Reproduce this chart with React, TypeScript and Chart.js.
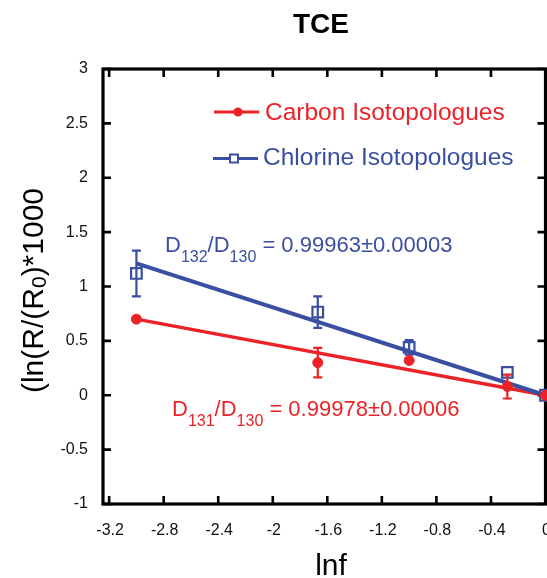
import React, { useEffect, useRef } from 'react';
import { Chart, registerables } from 'chart.js';

Chart.register(...registerables);

// ---- data ----
const X_VALUES = [-3.0, -1.67, -1.0, -0.28, 0];
const CARBON = [0.70, 0.30, 0.32, 0.08, 0];
const CARBON_ERR = [0, 0.135, 0, 0.11, 0];
const CHLORINE = [1.12, 0.765, 0.44, 0.21, 0];
const CHLORINE_ERR = [0.21, 0.145, 0.066, 0, 0];
const FIT_X = [-3.0, 0];
const CARBON_FIT = [0.70, 0];
const CHLORINE_FIT = [1.213, 0];
const X_TICKS = [-3.2, -2.8, -2.4, -2, -1.6, -1.2, -0.8, -0.4, 0];
const Y_TICKS = [-1, -0.5, 0, 0.5, 1, 1.5, 2, 2.5, 3];
const X_MIN = -3.245;
const X_MAX = 0;
const Y_MIN = -1;
const Y_MAX = 3;

const TITLE = 'TCE';
const X_TITLE = 'lnf';
const CARBON_LABEL = 'Carbon Isotopologues';
const CHLORINE_LABEL = 'Chlorine Isotopologues';

const RED = '#ec2227';
const BLUE = '#3a4ea2';
const FONT = '"Liberation Sans", Arial, Helvetica, sans-serif';

const W = 547;
const H = 578;

type Seg = { t: string; sub?: boolean };

function drawRich(ctx: CanvasRenderingContext2D, segs: Seg[], x: number, y: number, size: number, subSize: number, subOffset: number) {
  let cx = x;
  for (const s of segs) {
    ctx.font = `${s.sub ? subSize : size}px ${FONT}`;
    ctx.fillText(s.t, cx, y + (s.sub ? subOffset : 0));
    cx += ctx.measureText(s.t).width;
  }
}

function richWidth(ctx: CanvasRenderingContext2D, segs: Seg[], size: number, subSize: number) {
  let w = 0;
  for (const s of segs) {
    ctx.font = `${s.sub ? subSize : size}px ${FONT}`;
    w += ctx.measureText(s.t).width;
  }
  return w;
}

const fmt = (v: number) => String(Number(v.toFixed(3)));

const errorBarPlugin = {
  id: 'errorBars',
  beforeDatasetDraw(chart: any, args: any) {
    const ds = chart.data.datasets[args.index];
    if (!ds.errors) return;
    const ctx = chart.ctx;
    const xs = chart.scales.x;
    const ys = chart.scales.y;
    ctx.save();
    ctx.strokeStyle = ds.borderColor;
    ctx.lineWidth = 2.2;
    ds.data.forEach((p: any, i: number) => {
      const e = ds.errors[i];
      if (!e) return;
      const x = xs.getPixelForValue(p.x);
      const y1 = ys.getPixelForValue(p.y + e);
      const y2 = ys.getPixelForValue(p.y - e);
      ctx.beginPath();
      ctx.moveTo(x, y1);
      ctx.lineTo(x, y2);
      ctx.moveTo(x - 4.5, y1);
      ctx.lineTo(x + 4.5, y1);
      ctx.moveTo(x - 4.5, y2);
      ctx.lineTo(x + 4.5, y2);
      ctx.stroke();
    });
    ctx.restore();
  },
};

const framePlugin = {
  id: 'frame',
  beforeDatasetsDraw(chart: any) {
    const { ctx, chartArea: a } = chart;
    const xs = chart.scales.x;
    const ys = chart.scales.y;
    ctx.save();
    ctx.strokeStyle = '#000';
    ctx.lineWidth = 2.6;
    ctx.beginPath();
    const L = 8;
    xs.ticks.forEach((t: any) => {
      const x = xs.getPixelForValue(t.value);
      ctx.moveTo(x, a.bottom);
      ctx.lineTo(x, a.bottom - L);
      ctx.moveTo(x, a.top);
      ctx.lineTo(x, a.top + L);
    });
    ys.ticks.forEach((t: any) => {
      const y = ys.getPixelForValue(t.value);
      ctx.moveTo(a.left, y);
      ctx.lineTo(a.left + L, y);
      ctx.moveTo(a.right, y);
      ctx.lineTo(a.right - L, y);
    });
    ctx.stroke();
    ctx.lineWidth = 3.2;
    ctx.strokeRect(a.left, a.top, a.right - a.left, a.bottom - a.top);

    // x tick labels (drawn here so the last one may run off the canvas edge)
    ctx.fillStyle = '#111';
    ctx.font = `16px ${FONT}`;
    ctx.textAlign = 'center';
    ctx.textBaseline = 'alphabetic';
    xs.ticks.forEach((t: any) => {
      ctx.fillText(fmt(t.value), xs.getPixelForValue(t.value) + 1, 535);
    });
    ctx.restore();
  },
};

const textPlugin = {
  id: 'texts',
  afterDraw(chart: any) {
    const ctx: CanvasRenderingContext2D = chart.ctx;
    const a = chart.chartArea;
    ctx.save();
    ctx.textBaseline = 'alphabetic';

    // title
    ctx.fillStyle = '#000';
    ctx.font = `bold 28px ${FONT}`;
    ctx.textAlign = 'center';
    ctx.fillText(TITLE, 321, 33);

    // x title
    ctx.font = `30px ${FONT}`;
    ctx.fillText(X_TITLE, 331, 575);

    // y title (rotated, with subscript)
    ctx.textAlign = 'left';
    const ySegs: Seg[] = [{ t: '(ln(R/(R' }, { t: '0', sub: true }, { t: ')*1000' }];
    const yw = richWidth(ctx, ySegs, 30, 21);
    ctx.save();
    ctx.translate(43, (a.top + a.bottom) / 2 + 4);
    ctx.rotate(-Math.PI / 2);
    drawRich(ctx, ySegs, -yw / 2, 0, 30, 21, 3);
    ctx.restore();

    // legend
    ctx.lineWidth = 3;
    ctx.strokeStyle = RED;
    ctx.fillStyle = RED;
    ctx.beginPath();
    ctx.moveTo(214, 112);
    ctx.lineTo(259, 112);
    ctx.stroke();
    ctx.beginPath();
    ctx.arc(238, 112, 4.5, 0, Math.PI * 2);
    ctx.fill();
    ctx.font = `24.5px ${FONT}`;
    ctx.fillText(CARBON_LABEL, 265, 120);

    ctx.strokeStyle = BLUE;
    ctx.fillStyle = BLUE;
    ctx.beginPath();
    ctx.moveTo(213, 158.5);
    ctx.lineTo(258, 158.5);
    ctx.stroke();
    ctx.lineWidth = 2;
    ctx.fillStyle = '#fff';
    ctx.fillRect(230, 154.5, 8, 8);
    ctx.strokeRect(230, 154.5, 8, 8);
    ctx.fillStyle = BLUE;
    ctx.fillText(CHLORINE_LABEL, 263, 165);

    // annotations
    ctx.fillStyle = BLUE;
    drawRich(ctx, [{ t: 'D' }, { t: '132', sub: true }, { t: '/D' }, { t: '130', sub: true }, { t: ' = 0.99963±0.00003' }], 165, 252, 22, 16, 10);
    ctx.fillStyle = RED;
    drawRich(ctx, [{ t: 'D' }, { t: '131', sub: true }, { t: '/D' }, { t: '130', sub: true }, { t: ' = 0.99978±0.00006' }], 172, 416, 22, 16, 10);

    ctx.restore();
  },
};

export default function App() {
  const ref = useRef<HTMLCanvasElement>(null);

  useEffect(() => {
    const pts = (ys: number[]) => X_VALUES.map((x, i) => ({ x, y: ys[i] }));
    const fit = (ys: number[]) => FIT_X.map((x, i) => ({ x, y: ys[i] }));

    const chart = new Chart(ref.current as HTMLCanvasElement, {
      type: 'scatter',
      data: {
        datasets: [
          {
            label: CARBON_LABEL,
            data: pts(CARBON),
            errors: CARBON_ERR,
            borderColor: RED,
            backgroundColor: RED,
            pointStyle: 'circle',
            pointRadius: 5,
            borderWidth: 1,
            showLine: false,
            clip: false,
          } as any,
          {
            label: CHLORINE_LABEL,
            data: pts(CHLORINE),
            errors: CHLORINE_ERR,
            borderColor: BLUE,
            backgroundColor: 'rgba(255,255,255,0)',
            pointStyle: 'rect',
            pointRadius: 7.5,
            pointBorderWidth: 2.2,
            borderWidth: 2.2,
            showLine: false,
            clip: false,
          } as any,
          {
            label: 'Chlorine fit',
            data: fit(CHLORINE_FIT),
            borderColor: BLUE,
            borderWidth: 4,
            pointRadius: 0,
            showLine: true,
            clip: false,
          } as any,
          {
            label: 'Carbon fit',
            data: fit(CARBON_FIT),
            borderColor: RED,
            borderWidth: 3.5,
            pointRadius: 0,
            showLine: true,
            clip: false,
          } as any,
        ],
      },
      options: {
        animation: false,
        responsive: false,
        maintainAspectRatio: false,
        devicePixelRatio: 1,
        layout: { autoPadding: false, padding: { top: 69, right: 1.5, left: 0, bottom: 0 } },
        plugins: {
          legend: { display: false },
          tooltip: { enabled: false },
          title: { display: false },
        },
        scales: {
          x: {
            type: 'linear',
            min: X_MIN,
            max: X_MAX,
            grid: { display: false, drawTicks: false },
            border: { display: false },
            afterBuildTicks: (s: any) => {
              s.ticks = X_TICKS.map((v) => ({ value: v }));
            },
            afterFit: (s: any) => {
              s.height = 74;
              s.paddingLeft = 0;
              s.paddingRight = 0;
            },
            ticks: { display: false },
          },
          y: {
            type: 'linear',
            min: Y_MIN,
            max: Y_MAX,
            grid: { display: false, drawTicks: false },
            border: { display: false },
            afterBuildTicks: (s: any) => {
              s.ticks = Y_TICKS.map((v) => ({ value: v }));
            },
            afterFit: (s: any) => {
              s.width = 103;
              s.paddingTop = 0;
              s.paddingBottom = 0;
            },
            ticks: {
              autoSkip: false,
              padding: 15,
              color: '#111',
              font: { size: 16, family: FONT },
              callback: (v: any) => fmt(Number(v)),
            },
          },
        },
      } as any,
      plugins: [framePlugin, errorBarPlugin, textPlugin],
    });
    return () => chart.destroy();
  }, []);

  return (
    <div style={{ position: 'fixed', left: 0, top: 0, width: W, height: H, background: '#fff' }}>
      <canvas ref={ref} width={W} height={H} style={{ display: 'block', width: W, height: H }} />
    </div>
  );
}
